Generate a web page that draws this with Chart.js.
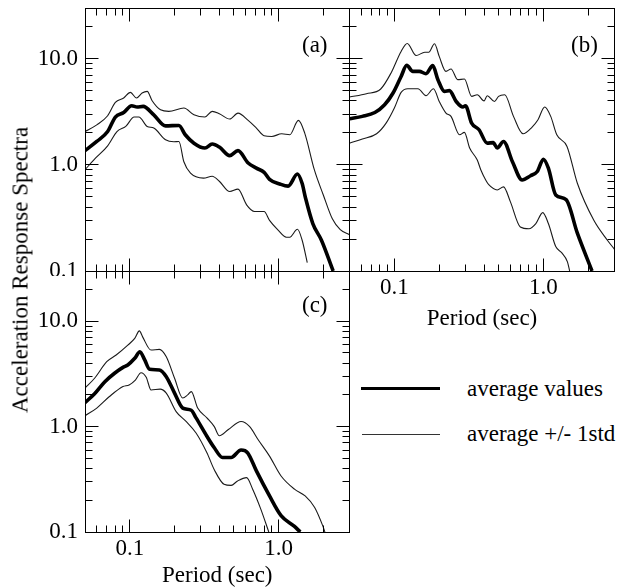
<!DOCTYPE html>
<html lang="en">
<head>
<meta charset="UTF-8">
<title>Acceleration Response Spectra</title>
<style>
    body {
        margin: 0;
        width: 621px;
        height: 587px;
        background: #fff;
        position: relative;
        overflow: hidden;
        font-family: 'Liberation Serif', 'Times New Roman', serif;
        color: #000;
    }
    canvas { position: absolute; }
    .txt { position: absolute; font-size: 23px; line-height: 23px; white-space: nowrap; }
    .ytitle { left: 20px; top: 270px; transform: translate(-50%, -50%) rotate(-90deg); }
    .line { position: absolute; height: 0; }
</style>
</head>
<body>
<canvas id="panelA" width="355" height="276" style="left:0;top:0"></canvas>
<canvas id="panelB" width="281" height="330" style="left:340px;top:0"></canvas>
<canvas id="panelC" width="355" height="319" style="left:0;top:268px"></canvas>

<div class="txt ytitle">Acceleration Response Spectra</div>
<div class="txt" style="left:302px;top:33px">(a)</div>
<div class="txt" style="left:571px;top:33px">(b)</div>
<div class="txt" style="left:302px;top:293px">(c)</div>

<div class="line" style="left:361px;top:387px;width:79px;border-top:3.5px solid #000"></div>
<div class="txt" style="left:467px;top:377px">average values</div>
<div class="line" style="left:362px;top:434px;width:78px;border-top:1px solid #333"></div>
<div class="txt" style="left:467px;top:422px">average +/- 1std</div>

<script src="https://cdn.jsdelivr.net/npm/chart.js"></script>
<script>
    const serif = "'Liberation Serif', 'Times New Roman', serif";

    // axes
    const xLabelValues = [0.1, 1];
    const xTickLabels = ['0.1', '1.0'];
    const yLabelValues = [0.1, 1, 10];
    const yTickLabels = ['0.1', '1.0', '10.0'];
    const xTickMarks = [0.06, 0.07, 0.08, 0.09, 0.1, 0.2, 0.3, 0.4, 0.5, 0.6, 0.7, 0.8, 0.9, 1, 2];
    const yTickMarks = [0.2, 0.3, 0.4, 0.5, 0.6, 0.7, 0.8, 0.9, 1, 2, 3, 4, 5, 6, 7, 8, 9, 10, 20];

    // panel (a)
    const aMeanT = [0.05, 0.06, 0.071, 0.08, 0.091, 0.103, 0.112, 0.123, 0.145, 0.174, 0.214, 0.236, 0.27, 0.32, 0.358, 0.40, 0.47, 0.534, 0.625, 0.71, 0.80, 0.87, 1.02, 1.16, 1.34, 1.44, 1.52, 1.70, 1.94, 2.33];
    const aMeanV = [1.36, 1.66, 2.06, 2.82, 3.11, 3.6, 3.5, 3.55, 2.96, 2.33, 2.35, 1.92, 1.6, 1.44, 1.57, 1.47, 1.22, 1.36, 1.04, 0.93, 0.85, 0.73, 0.66, 0.63, 0.82, 0.67, 0.485, 0.28, 0.196, 0.1];
    const aUpT = [0.05, 0.06, 0.071, 0.08, 0.091, 0.101, 0.111, 0.121, 0.131, 0.141, 0.161, 0.183, 0.231, 0.27, 0.32, 0.358, 0.40, 0.47, 0.534, 0.625, 0.71, 0.80, 0.90, 1.05, 1.19, 1.36, 1.50, 1.74, 2.0, 2.3, 2.6, 3.0];
    const aUpV = [2.06, 2.38, 2.9, 3.87, 4.26, 4.81, 4.26, 4.75, 4.92, 4.04, 3.3, 3.19, 3.43, 2.96, 2.82, 3.19, 3.03, 2.7, 3.07, 2.62, 2.22, 1.88, 1.85, 1.96, 1.92, 2.62, 1.99, 0.9, 0.52, 0.31, 0.245, 0.22];
    const aLowT = [0.05, 0.059, 0.071, 0.082, 0.094, 0.107, 0.115, 0.131, 0.145, 0.174, 0.198, 0.214, 0.231, 0.256, 0.313, 0.358, 0.40, 0.47, 0.534, 0.61, 0.69, 0.80, 0.87, 0.99, 1.13, 1.19, 1.34, 1.44, 1.56];
    const aLowV = [0.9, 1.16, 1.51, 2.06, 2.3, 2.82, 2.82, 2.3, 2.22, 1.72, 1.65, 1.66, 1.07, 0.835, 0.75, 0.78, 0.70, 0.56, 0.59, 0.42, 0.363, 0.363, 0.30, 0.244, 0.208, 0.208, 0.247, 0.196, 0.12];

    // panel (b)
    const bMeanT = [0.05, 0.061, 0.074, 0.086, 0.098, 0.111, 0.121, 0.133, 0.147, 0.163, 0.181, 0.196, 0.217, 0.234, 0.26, 0.288, 0.30, 0.33, 0.37, 0.42, 0.46, 0.49, 0.54, 0.62, 0.72, 0.82, 0.91, 1.0, 1.08, 1.21, 1.42, 1.69, 2.12];
    const bMeanV = [2.72, 2.86, 3.11, 3.68, 4.75, 6.8, 8.64, 7.59, 7.59, 7.22, 8.59, 6.34, 4.92, 5.0, 3.95, 3.5, 3.6, 2.47, 2.14, 1.6, 1.62, 1.44, 1.66, 1.07, 0.72, 0.79, 0.865, 1.13, 0.93, 0.52, 0.47, 0.227, 0.1];
    const bUpT = [0.05, 0.065, 0.081, 0.095, 0.111, 0.122, 0.14, 0.16, 0.17, 0.186, 0.20, 0.222, 0.24, 0.266, 0.295, 0.33, 0.36, 0.40, 0.42, 0.47, 0.50, 0.55, 0.63, 0.73, 0.84, 0.92, 1.02, 1.12, 1.23, 1.44, 1.69, 2.18, 2.68, 3.0];
    const bUpV = [4.35, 4.67, 5.18, 7.33, 11.7, 13.9, 10.7, 11.5, 11.5, 13.8, 10.5, 7.59, 8.0, 6.34, 6.43, 4.41, 4.57, 4.0, 4.48, 3.95, 4.41, 4.57, 2.86, 1.96, 2.27, 2.66, 3.5, 2.86, 1.92, 1.49, 0.67, 0.30, 0.196, 0.16];
    const bLowT = [0.05, 0.061, 0.076, 0.088, 0.10, 0.111, 0.123, 0.144, 0.163, 0.183, 0.20, 0.222, 0.24, 0.274, 0.295, 0.32, 0.36, 0.38, 0.41, 0.43, 0.49, 0.54, 0.60, 0.70, 0.80, 0.89, 0.99, 1.08, 1.21, 1.33, 1.45, 1.5];
    const bLowV = [1.6, 1.75, 1.96, 2.47, 3.43, 4.81, 5.21, 5.21, 4.48, 5.21, 3.95, 3.07, 2.86, 1.92, 2.02, 1.44, 1.11, 0.9, 0.72, 0.65, 0.58, 0.62, 0.45, 0.26, 0.25, 0.28, 0.355, 0.28, 0.17, 0.148, 0.122, 0.1];

    // panel (c)
    const cMeanT = [0.05, 0.058, 0.068, 0.079, 0.09, 0.097, 0.108, 0.117, 0.126, 0.136, 0.158, 0.176, 0.20, 0.227, 0.259, 0.279, 0.33, 0.37, 0.42, 0.48, 0.56, 0.62, 0.71, 0.87, 1.04, 1.28, 1.4];
    const cMeanV = [1.69, 2.05, 2.67, 3.21, 3.65, 3.85, 4.45, 5.13, 4.29, 3.5, 3.45, 2.98, 2.08, 1.5, 1.43, 1.21, 0.81, 0.63, 0.51, 0.51, 0.60, 0.565, 0.38, 0.22, 0.143, 0.113, 0.1];
    const cUpT = [0.05, 0.058, 0.070, 0.081, 0.097, 0.108, 0.116, 0.122, 0.139, 0.158, 0.176, 0.20, 0.227, 0.245, 0.259, 0.286, 0.33, 0.37, 0.40, 0.46, 0.56, 0.64, 0.73, 0.87, 1.04, 1.28, 1.51, 1.75, 1.99, 2.05];
    const cUpV = [2.32, 2.88, 4.13, 4.78, 5.94, 6.87, 8.1, 7.11, 5.33, 5.41, 4.6, 2.88, 1.87, 2.0, 2.15, 1.5, 1.21, 1.0, 0.82, 0.94, 1.12, 1.0, 0.75, 0.525, 0.34, 0.255, 0.22, 0.171, 0.113, 0.1];
    const cLowT = [0.05, 0.06, 0.073, 0.09, 0.099, 0.109, 0.119, 0.129, 0.139, 0.16, 0.176, 0.205, 0.239, 0.279, 0.33, 0.37, 0.43, 0.48, 0.53, 0.61, 0.67, 0.76, 0.86];
    const cLowV = [1.27, 1.5, 1.93, 2.4, 2.49, 2.77, 3.25, 2.94, 2.23, 2.27, 2.08, 1.39, 1.12, 0.87, 0.565, 0.39, 0.284, 0.277, 0.305, 0.328, 0.255, 0.165, 0.1];

    function pts(t, v) {
        return t.map((p, i) => ({x: p, y: v[i]}));
    }
    function isDecade(v) {
        const l = Math.log10(v);
        return Math.abs(l - Math.round(l)) < 1e-9;
    }
    // snap to the middle of a pixel so the 1px lines stay crisp
    const snap = v => Math.floor(v) + 0.5;

    // box round the plot area, with ticks pointing inwards on every side
    const frameTicks = {
        id: 'frameTicks',
        afterDatasetsDraw(chart) {
            const {ctx, chartArea: a} = chart;
            const x = chart.scales.x, y = chart.scales.y;
            const L = snap(a.left), R = snap(a.right), T = snap(a.top), B = snap(a.bottom);
            ctx.save();
            ctx.strokeStyle = '#000';
            ctx.lineWidth = 1;
            ctx.strokeRect(L, T, R - L, B - T);
            ctx.beginPath();
            xTickMarks.forEach(v => {
                const px = snap(x.getPixelForValue(v));
                const len = isDecade(v) ? 13 : 7;
                ctx.moveTo(px, B); ctx.lineTo(px, B - len);
                ctx.moveTo(px, T); ctx.lineTo(px, T + len);
            });
            yTickMarks.forEach(v => {
                const py = snap(y.getPixelForValue(v));
                const len = isDecade(v) ? 13 : 7;
                ctx.moveTo(L, py); ctx.lineTo(L + len, py);
                ctx.moveTo(R, py); ctx.lineTo(R - len, py);
            });
            ctx.stroke();
            ctx.restore();
        }
    };

    function makePanel(id, series, cfg) {
        const [mT, mV, uT, uV, lT, lV] = series;
        const thin = {borderColor: '#1a1a1a', borderWidth: 1.1, pointRadius: 0, cubicInterpolationMode: 'monotone'};
        new Chart(document.getElementById(id), {
            type: 'line',
            data: {
                datasets: [
                    {label: 'average +1std', data: pts(uT, uV), ...thin},
                    {label: 'average values', data: pts(mT, mV), borderColor: '#000', borderWidth: 3.6, pointRadius: 0, cubicInterpolationMode: 'monotone'},
                    {label: 'average -1std', data: pts(lT, lV), ...thin}
                ]
            },
            options: {
                responsive: false,
                animation: false,
                events: [],
                layout: {padding: cfg.padding},
                plugins: {legend: {display: false}, tooltip: {enabled: false}},
                scales: {
                    x: {
                        type: 'logarithmic',
                        min: 0.05,
                        max: 3,
                        grid: {display: false, drawTicks: false},
                        border: {display: false},
                        afterBuildTicks: s => { s.ticks = xLabelValues.map(v => ({value: v})); },
                        ticks: {
                            display: cfg.showX,
                            autoSkip: false,
                            maxRotation: 0,
                            padding: 5.5,
                            color: '#000',
                            font: {family: serif, size: 23, lineHeight: 1},
                            callback: (v, i) => xTickLabels[i]
                        },
                        title: {
                            display: cfg.showX,
                            text: 'Period (sec)',
                            color: '#000',
                            padding: 0,
                            font: {family: serif, size: 23, lineHeight: 1}
                        },
                        afterFit: s => { s.height = cfg.xHeight; s.paddingLeft = 0; s.paddingRight = 0; }
                    },
                    y: {
                        type: 'logarithmic',
                        position: 'left',
                        min: 0.1,
                        max: 30,
                        grid: {display: false, drawTicks: false},
                        border: {display: false},
                        afterBuildTicks: s => { s.ticks = yLabelValues.map(v => ({value: v})); },
                        ticks: {
                            display: cfg.showY,
                            autoSkip: false,
                            padding: 7,
                            color: '#000',
                            font: {family: serif, size: 23, lineHeight: 1},
                            callback: (v, i) => yTickLabels[i]
                        },
                        afterFit: s => { s.width = cfg.yWidth; s.paddingTop = 0; s.paddingBottom = 0; }
                    }
                }
            },
            plugins: [frameTicks]
        });
    }

    makePanel('panelA', [aMeanT, aMeanV, aUpT, aUpV, aLowT, aLowV],
        {showX: false, showY: true, yWidth: 85, xHeight: 5, padding: {top: 8, right: 5.5, left: 0, bottom: 0}});
    makePanel('panelB', [bMeanT, bMeanV, bUpT, bUpV, bLowT, bLowV],
        {showX: true, showY: false, yWidth: 9.5, xHeight: 59, padding: {top: 8, right: 6.5, left: 0, bottom: 0}});
    makePanel('panelC', [cMeanT, cMeanV, cUpT, cUpV, cLowT, cLowV],
        {showX: true, showY: true, yWidth: 85, xHeight: 55, padding: {top: 3, right: 5.5, left: 0, bottom: 0}});
</script>
</body>
</html>
